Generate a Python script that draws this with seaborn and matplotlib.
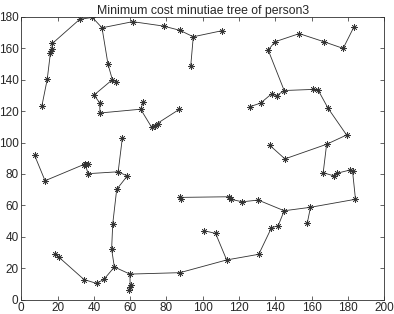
import numpy as np
import pandas as pd
import matplotlib
matplotlib.use('Agg')
import matplotlib.pyplot as plt
import seaborn as sns

# minutiae coordinates
xs = [11.3, 14.3, 16.2, 16.8, 15.9, 17.2, 32.2, 39.2, 44.5, 47.8,
      50.2, 52.2, 40.1, 43.2, 43.4, 65.8, 67.2, 71.8, 73.7, 75.1,
      87.2, 55.7, 61.4, 78.4, 87.4, 94.8, 93.4, 110.4, 136.1, 139.8,
      153.2, 166.9, 177.4, 183.4, 144.9, 140.7, 138.0, 131.9, 126.0, 160.9,
      163.6, 169.1, 179.3, 168.3, 137.0, 145.3, 166.4, 172.5, 173.8, 181.1,
      182.6, 184.2, 159.4, 157.6, 144.9, 141.6, 137.9, 130.9, 113.2, 107.1,
      100.7, 130.6, 121.8, 114.4, 115.4, 87.4, 88.3, 87.4, 59.9, 51.3,
      59.5, 60.0, 60.6, 49.8, 50.4, 52.6, 58.4, 53.4, 36.9, 35.1,
      36.6, 34.4, 13.1, 7.3, 18.6, 20.6, 34.6, 41.5, 45.6]
ys = [123.0, 140.2, 158.4, 159.8, 157.0, 163.1, 178.4, 179.6, 173.0, 149.8,
      140.0, 138.8, 130.2, 125.3, 118.8, 121.2, 125.7, 109.8, 110.7, 111.6,
      121.2, 102.8, 176.9, 174.1, 171.4, 167.3, 148.8, 171.1, 158.8, 164.1,
      169.3, 164.1, 159.9, 173.7, 133.1, 129.8, 131.0, 125.1, 122.8, 133.8,
      133.4, 121.8, 104.8, 98.9, 98.2, 89.6, 80.8, 78.7, 80.4, 82.5,
      81.6, 63.9, 58.8, 48.6, 56.6, 47.1, 45.8, 28.9, 25.3, 42.2,
      43.9, 63.4, 62.3, 65.5, 63.9, 65.1, 63.9, 17.2, 16.3, 20.8,
      6.2, 8.0, 9.4, 32.1, 48.2, 70.2, 78.7, 81.4, 80.2, 86.3,
      86.6, 86.0, 75.7, 92.0, 29.1, 27.2, 12.8, 10.4, 13.0]

# tree edges as pairs of node indices
edge_from = [0, 1, 2, 4, 3, 5, 6, 7, 8, 9, 10, 12, 13, 14, 15, 15, 17, 18, 19, 17,
             21, 8, 22, 23, 24, 25, 25,
             28, 29, 30, 31, 32, 28, 34, 35, 36, 37, 34, 39, 40, 41, 42, 43, 45,
             43, 46, 47, 48, 49, 50, 51, 52, 52, 54, 55, 56, 57, 58, 59, 54, 61,
             62, 64, 63, 65, 58, 67, 68, 68, 71, 71, 69, 73, 74, 75, 76, 77, 78,
             79, 79, 81, 82, 69, 88, 87, 86, 85]
edge_to = [1, 2, 3, 2, 5, 6, 7, 8, 9, 10, 11, 10, 12, 13, 14, 16, 15, 17, 18, 20,
           77, 22, 23, 24, 25, 26, 27,
           29, 30, 31, 32, 33, 34, 35, 36, 37, 38, 39, 40, 41, 42, 43, 45, 44,
           46, 47, 48, 49, 50, 51, 52, 53, 54, 55, 56, 57, 58, 59, 60, 61, 62,
           64, 63, 65, 66, 67, 68, 69, 71, 70, 72, 73, 74, 75, 76, 77, 78, 79,
           80, 81, 82, 83, 88, 87, 86, 85, 84]

rows = []
for k, (a, b) in enumerate(zip(edge_from, edge_to)):
    rows.append({'edge': k, 'order': 0, 'x': xs[a], 'y': ys[a]})
    rows.append({'edge': k, 'order': 1, 'x': xs[b], 'y': ys[b]})
edges = pd.DataFrame(rows)
nodes = pd.DataFrame({'x': xs, 'y': ys})

sns.set_style('ticks')
plt.rcParams['font.family'] = ['Liberation Sans', 'DejaVu Sans']

fig = plt.figure(figsize=(3.94, 3.14), dpi=100)
ax = fig.add_axes([0.054, 0.0455, 0.921, 0.901])

sns.lineplot(data=edges, x='x', y='y', units='edge', estimator=None, sort=False,
             color='#303030', lw=0.6, ax=ax, legend=False)
sns.scatterplot(data=nodes, x='x', y='y', marker=(8, 2, 0), s=20, color='#383838',
                linewidth=0.5, ax=ax, legend=False)

ax.set_xlim(0, 200)
ax.set_ylim(0, 180)
ax.set_xticks(np.arange(0, 201, 20))
ax.set_yticks(np.arange(0, 181, 20))
ax.tick_params(direction='in', length=3, width=0.5, labelsize=8.5, pad=2,
               top=True, right=True)
for s in ax.spines.values():
    s.set_linewidth(0.6)
    s.set_color('#303030')
ax.set_xlabel('')
ax.set_ylabel('')
ax.set_title('Minimum cost minutiae tree of person3', fontsize=8.8, pad=2)

fig.savefig('out.png', dpi=100)
